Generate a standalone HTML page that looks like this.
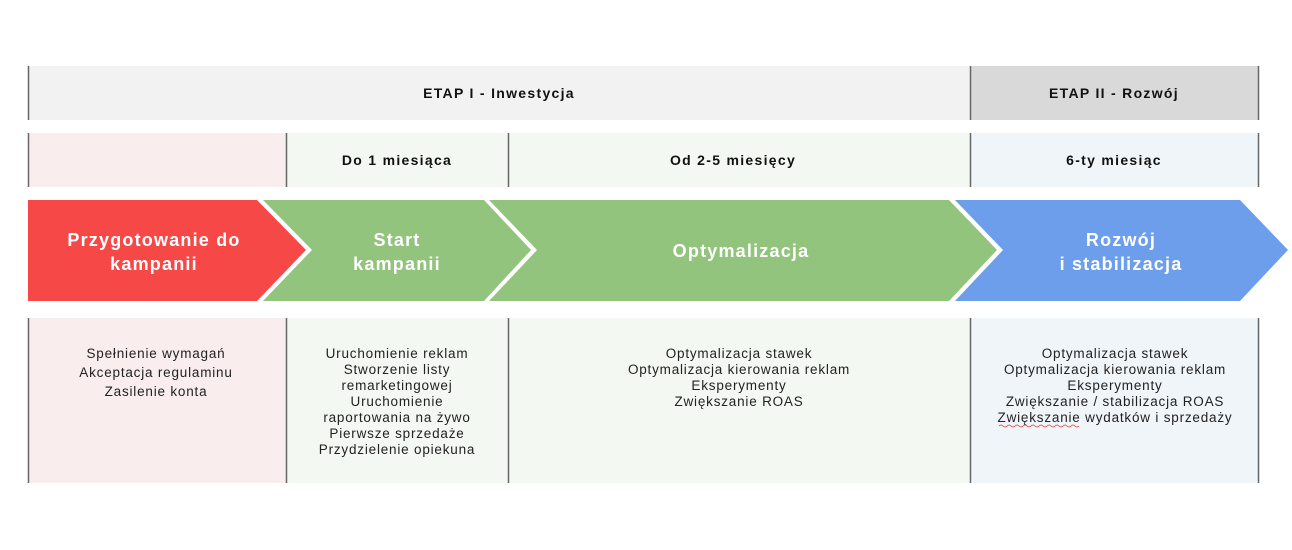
<!DOCTYPE html>
<html><head><meta charset="utf-8"><style>
html,body{margin:0;padding:0;background:#fff;width:1292px;height:550px;overflow:hidden}
svg text{font-family:"Liberation Sans",sans-serif}
.b{font-weight:bold;font-size:14px;fill:#111;letter-spacing:1.3px}
.w{font-weight:bold;font-size:18px;fill:#fff;letter-spacing:1.2px}
.t{font-size:13.5px;fill:#222;letter-spacing:0.8px}
</style></head><body>
<svg width="1292" height="550" xmlns="http://www.w3.org/2000/svg">
<rect x="28" y="66" width="942" height="54" fill="#f2f2f2"/>
<rect x="970" y="66" width="289" height="54" fill="#d9d9d9"/>
<g stroke="#666" stroke-width="1.5">
<line x1="28.5" y1="66" x2="28.5" y2="120"/><line x1="970.5" y1="66" x2="970.5" y2="120"/><line x1="1258.5" y1="66" x2="1258.5" y2="120"/>
</g>
<text class="b" x="499" y="98" text-anchor="middle">ETAP I - Inwestycja</text>
<text class="b" x="1114" y="98" text-anchor="middle">ETAP II - Rozwój</text>
<rect x="28" y="133" width="258" height="54" fill="#f9eded"/>
<rect x="286" y="133" width="684" height="54" fill="#f4f8f2"/>
<rect x="970" y="133" width="289" height="54" fill="#f0f5fa"/>
<g stroke="#666" stroke-width="1.5">
<line x1="28.5" y1="133" x2="28.5" y2="187"/><line x1="286.5" y1="133" x2="286.5" y2="187"/><line x1="508.5" y1="133" x2="508.5" y2="187"/><line x1="970.5" y1="133" x2="970.5" y2="187"/><line x1="1258.5" y1="133" x2="1258.5" y2="187"/>
</g>
<text class="b" x="397" y="165" text-anchor="middle">Do 1 miesiąca</text>
<text class="b" x="733" y="165" text-anchor="middle">Od 2-5 miesięcy</text>
<text class="b" x="1114" y="165" text-anchor="middle">6-ty miesiąc</text>
<polygon points="28,200 257,200 306,250 257,301 28,301" fill="#f74848"/>
<polygon points="263,200 484,200 531,250 484,301 263,301 312,250" fill="#93c47d"/>
<polygon points="489,200 949,200 997,250 949,301 489,301 537,250" fill="#93c47d"/>
<polygon points="955,200 1240,200 1288,250 1240,301 955,301 1003,250" fill="#6d9eeb"/>
<text class="w" x="154" y="246" text-anchor="middle">Przygotowanie do</text>
<text class="w" x="154" y="270" text-anchor="middle">kampanii</text>
<text class="w" x="397" y="246" text-anchor="middle">Start</text>
<text class="w" x="397" y="270" text-anchor="middle">kampanii</text>
<text class="w" x="741" y="257" text-anchor="middle">Optymalizacja</text>
<text class="w" x="1121" y="246" text-anchor="middle">Rozwój</text>
<text class="w" x="1121" y="270" text-anchor="middle">i stabilizacja</text>
<rect x="28" y="318" width="258" height="165" fill="#f9eded"/>
<rect x="286" y="318" width="684" height="165" fill="#f4f8f2"/>
<rect x="970" y="318" width="289" height="165" fill="#f0f5fa"/>
<g stroke="#666" stroke-width="1.5">
<line x1="28.5" y1="318" x2="28.5" y2="483"/><line x1="286.5" y1="318" x2="286.5" y2="483"/><line x1="508.5" y1="318" x2="508.5" y2="483"/><line x1="970.5" y1="318" x2="970.5" y2="483"/><line x1="1258.5" y1="318" x2="1258.5" y2="483"/>
</g>
<g text-anchor="middle">
<text class="t" x="156" y="358">Spełnienie wymagań</text>
<text class="t" x="156" y="377">Akceptacja regulaminu</text>
<text class="t" x="156" y="396">Zasilenie konta</text>
<text class="t" x="397" y="358">Uruchomienie reklam</text>
<text class="t" x="397" y="374">Stworzenie listy</text>
<text class="t" x="397" y="390">remarketingowej</text>
<text class="t" x="397" y="406">Uruchomienie</text>
<text class="t" x="397" y="422">raportowania na żywo</text>
<text class="t" x="397" y="438">Pierwsze sprzedaże</text>
<text class="t" x="397" y="454">Przydzielenie opiekuna</text>
<text class="t" x="739" y="358">Optymalizacja stawek</text>
<text class="t" x="739" y="374">Optymalizacja kierowania reklam</text>
<text class="t" x="739" y="390">Eksperymenty</text>
<text class="t" x="739" y="406">Zwiększanie ROAS</text>
<text class="t" x="1115" y="358">Optymalizacja stawek</text>
<text class="t" x="1115" y="374">Optymalizacja kierowania reklam</text>
<text class="t" x="1115" y="390">Eksperymenty</text>
<text class="t" x="1115" y="406">Zwiększanie / stabilizacja ROAS</text>
<text class="t" x="1115" y="422">Zwiększanie wydatków i sprzedaży</text>
</g>
<path d="M999,426 q2,-2 4,0 t4,0 t4,0 t4,0 t4,0 t4,0 t4,0 t4,0 t4,0 t4,0 t4,0 t4,0 t4,0 t4,0 t4,0 t4,0 t4,0 t4,0 t4,0 t4,0" fill="none" stroke="#e33" stroke-width="0.8"/>
</svg>
</body></html>
